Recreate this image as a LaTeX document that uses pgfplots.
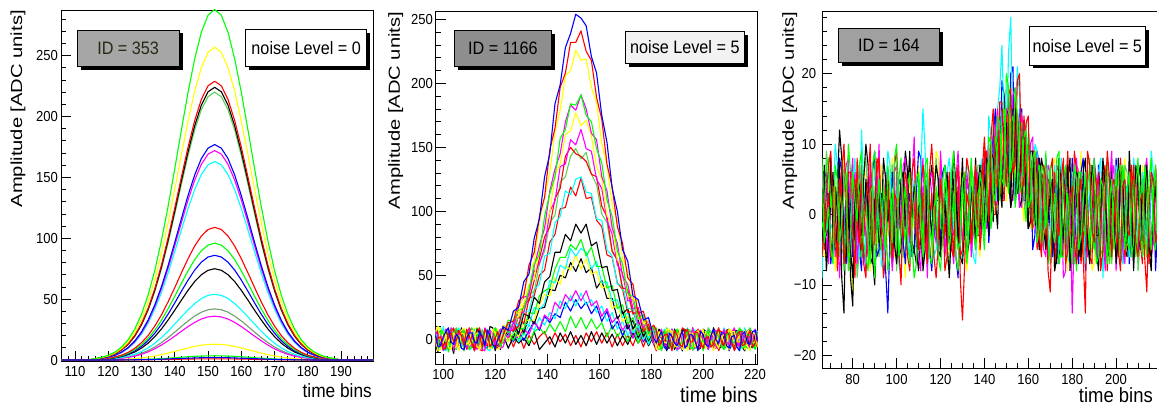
\documentclass[border=0pt]{standalone}
\usepackage{fontspec}
\setmainfont{Liberation Sans}[FakeStretch=0.9]
\usepackage{graphicx}
\usepackage{pgfplots}
\usepackage{pgfplotstable}
\pgfplotsset{compat=1.18}
\definecolor{rR}{RGB}{255,0,0}
\definecolor{rG}{RGB}{0,255,0}
\definecolor{rB}{RGB}{0,0,255}
\definecolor{rY}{RGB}{255,255,0}
\definecolor{rM}{RGB}{255,0,255}
\definecolor{rC}{RGB}{0,255,255}
\definecolor{rK}{RGB}{0,0,0}
\definecolor{rGe}{RGB}{89,212,84}
\definecolor{rGG}{RGB}{110,158,110}
\definecolor{boxA}{RGB}{166,166,166}
\definecolor{boxB}{RGB}{142,142,142}
\definecolor{boxC}{RGB}{160,160,160}
\definecolor{boxW}{RGB}{242,242,242}
\definecolor{olv}{RGB}{40,40,20}
\pgfplotsset{rootax/.style={scale only axis, anchor=south west,
  axis line style={black,line width=0.8pt},
  tick style={black,line width=0.8pt},
  major tick length=10pt, minor tick length=5pt,
  tick align=inside, tick pos=left,
  /pgf/number format/assume math mode=true,
  tick label style={font=\fontsize{14.5}{16}\selectfont, inner sep=2pt},
  every axis plot/.append style={line width=1.1pt, line join=round, mark=none}}}
\newcommand{\myPaveBox}[7]{%
  \fill[black,xshift=3.5pt,yshift=-3.5pt] (#1pt,#2pt) rectangle (#3pt,#4pt);
  \filldraw[fill=#5,draw=black,line width=0.8pt] (#1pt,#2pt) rectangle (#3pt,#4pt);
  \path (#1pt,#2pt) -- (#3pt,#4pt) node[midway,text=#7,inner sep=0pt,font=\fontsize{18}{20}\selectfont] {#6};}

% ---------- panel 1: noise level 0 ----------
\pgfplotstableread{
x a1 a2 a3 a4 a5 a6 a7 a8 a9 a10 a11 a12 a13 a14 a15 a16 a17 a18 a19
106 0 0 0 0 0 0 0 0 0 0 0 0 0 0 0 0 0 0 0
114 0 0 0 0 0 0 0 0 0 0 0 0 0 0 0 0 0 0 0
116 1.2 1.1 1.0 0.9 1.0 0.8 0.7 0.7 0.5 0.4 0.4 0.3 0.2 0.2 0.2 0 0 0 0
118 2.2 2.0 1.8 1.7 1.7 1.4 1.3 1.3 0.8 0.7 0.7 0.6 0.4 0.3 0.3 0.1 0 0 0
120 3.9 3.4 3.1 2.9 3.0 2.4 2.3 2.2 1.5 1.3 1.2 1.0 0.7 0.6 0.5 0.2 0 0 0
122 6.5 5.8 5.2 5.0 5.1 4.0 3.9 3.7 2.5 2.2 1.9 1.7 1.2 0.9 0.8 0.3 0.1 0 0
124 10.6 9.5 8.5 8.1 8.3 6.5 6.3 6.0 4.0 3.5 3.2 2.8 2.0 1.5 1.3 0.5 0.1 0 0.1
126 16.7 14.9 13.3 12.8 13.0 10.3 10.0 9.5 6.3 5.6 5.0 4.4 3.1 2.4 2.1 0.8 0.2 0.1 0.1
128 25.5 22.8 20.3 19.5 19.8 15.7 15.2 14.4 9.7 8.5 7.6 6.6 4.8 3.7 3.2 1.2 0.3 0.1 0.2
130 37.6 33.5 29.9 28.7 29.2 23.1 22.4 21.3 14.2 12.5 11.2 9.8 7.0 5.5 4.7 1.7 0.5 0.1 0.3
132 53.5 47.7 42.5 40.9 41.6 32.9 31.9 30.3 20.2 17.8 16.0 13.9 10.0 7.8 6.7 2.4 0.6 0.2 0.4
134 73.6 65.7 58.6 56.3 57.3 45.3 44.0 41.7 27.9 24.5 22.0 19.2 13.8 10.7 9.2 3.3 0.9 0.3 0.5
136 98.1 87.5 78.0 74.9 76.3 60.3 58.6 55.5 37.1 32.7 29.3 25.5 18.4 14.3 12.3 4.4 1.2 0.3 0.7
138 126.2 112.6 100.4 96.4 98.2 77.6 75.4 71.4 47.8 42.1 37.7 32.9 23.7 18.4 15.8 5.7 1.5 0.4 0.9
140 157.1 140.2 124.9 120.0 122.2 96.6 93.8 88.9 59.5 52.4 46.9 40.9 29.5 22.9 19.6 7.1 1.9 0.5 1.1
142 189.1 168.7 150.3 144.4 147.1 116.2 112.9 107.0 71.6 63.0 56.5 49.2 35.5 27.6 23.6 8.5 2.3 0.7 1.3
144 220.0 196.3 174.9 168.0 171.1 135.2 131.4 124.5 83.3 73.3 65.7 57.3 41.2 32.1 27.5 9.9 2.7 0.8 1.5
146 247.5 220.9 196.8 189.1 192.5 152.1 147.8 140.1 93.7 82.5 73.9 64.5 46.4 36.1 30.9 11.2 3.0 0.9 1.7
148 269.3 240.3 214.1 205.7 209.4 165.5 160.8 152.4 101.9 89.8 80.4 70.1 50.5 39.3 33.7 12.2 3.3 0.9 1.9
150 283.2 252.7 225.2 216.3 220.3 174.0 169.1 160.3 107.2 94.4 84.6 73.7 53.1 41.3 35.4 12.8 3.4 1 2
152 288 257 229 220 224 177 172 163 109 96 86 75 54 42 36 13 3.5 1 2
154 283.2 252.7 225.2 216.3 220.3 174.0 169.1 160.3 107.2 94.4 84.6 73.7 53.1 41.3 35.4 12.8 3.4 1 2
156 269.3 240.3 214.1 205.7 209.4 165.5 160.8 152.4 101.9 89.8 80.4 70.1 50.5 39.3 33.7 12.2 3.3 0.9 1.9
158 247.5 220.9 196.8 189.1 192.5 152.1 147.8 140.1 93.7 82.5 73.9 64.5 46.4 36.1 30.9 11.2 3.0 0.9 1.7
160 220.0 196.3 174.9 168.0 171.1 135.2 131.4 124.5 83.3 73.3 65.7 57.3 41.2 32.1 27.5 9.9 2.7 0.8 1.5
162 189.1 168.7 150.3 144.4 147.1 116.2 112.9 107.0 71.6 63.0 56.5 49.2 35.5 27.6 23.6 8.5 2.3 0.7 1.3
164 157.1 140.2 124.9 120.0 122.2 96.6 93.8 88.9 59.5 52.4 46.9 40.9 29.5 22.9 19.6 7.1 1.9 0.5 1.1
166 126.2 112.6 100.4 96.4 98.2 77.6 75.4 71.4 47.8 42.1 37.7 32.9 23.7 18.4 15.8 5.7 1.5 0.4 0.9
168 98.1 87.5 78.0 74.9 76.3 60.3 58.6 55.5 37.1 32.7 29.3 25.5 18.4 14.3 12.3 4.4 1.2 0.3 0.7
170 73.6 65.7 58.6 56.3 57.3 45.3 44.0 41.7 27.9 24.5 22.0 19.2 13.8 10.7 9.2 3.3 0.9 0.3 0.5
172 53.5 47.7 42.5 40.9 41.6 32.9 31.9 30.3 20.2 17.8 16.0 13.9 10.0 7.8 6.7 2.4 0.6 0.2 0.4
174 37.6 33.5 29.9 28.7 29.2 23.1 22.4 21.3 14.2 12.5 11.2 9.8 7.0 5.5 4.7 1.7 0.5 0.1 0.3
176 25.5 22.8 20.3 19.5 19.8 15.7 15.2 14.4 9.7 8.5 7.6 6.6 4.8 3.7 3.2 1.2 0.3 0.1 0.2
178 16.7 14.9 13.3 12.8 13.0 10.3 10.0 9.5 6.3 5.6 5.0 4.4 3.1 2.4 2.1 0.8 0.2 0.1 0.1
180 10.6 9.5 8.5 8.1 8.3 6.5 6.3 6.0 4.0 3.5 3.2 2.8 2.0 1.5 1.3 0.5 0.1 0 0.1
182 6.5 5.8 5.2 5.0 5.1 4.0 3.9 3.7 2.5 2.2 1.9 1.7 1.2 0.9 0.8 0.3 0.1 0 0
184 3.9 3.4 3.1 2.9 3.0 2.4 2.3 2.2 1.5 1.3 1.2 1.0 0.7 0.6 0.5 0.2 0 0 0
186 2.2 2.0 1.8 1.7 1.7 1.4 1.3 1.3 0.8 0.7 0.7 0.6 0.4 0.3 0.3 0.1 0 0 0
188 1.2 1.1 1.0 0.9 1.0 0.8 0.7 0.7 0.5 0.4 0.4 0.3 0.2 0.2 0.2 0 0 0 0
190 0 0 0 0 0 0 0 0 0 0 0 0 0 0 0 0 0 0 0
200 0 0 0 0 0 0 0 0 0 0 0 0 0 0 0 0 0 0 0
}\tA

% ---------- panel 2: ID 1166, noise level 5 ----------
\pgfplotstableread{
x c1 c2 c3 c4 c5 c6 c7 c8 c9 c10 c11 c12 c13 c14 c15 c16 c17 c18 c19 c20 c21 c22
97 3 -4 6 -2 8 1 -6 4 -1 7 -3 -9 2 5 -5 0 6 -2 3 -7 9 -4
98 -6 1 9 -3 2 -9 4 6 -8 -1 3 7 -4 -2 10 -5 1 -7 5 8 -3 -10
99 -5 2 -1 7 -3 -8 3 0 6 -2 5 4 -7 1 8 -3 -1 9 -4 2 -6 3
100 2 -8 -3 5 -7 6 -2 -5 3 10 -6 -4 6 -8 -1 4 -9 3 -2 -4 7 5
101 6 -7 3 2 -5 4 8 -3 -2 1 -6 0 5 -9 2 7 -4 1 -2 6 3 -8
102 9 4 -6 -9 3 -2 7 1 -4 -5 8 2 -10 5 4 -7 2 6 -8 1 -2 -3
103 -2 5 -8 -4 6 2 -1 7 3 -5 0 -3 8 2 -6 4 9 -5 1 -1 -3 5
104 -4 -2 5 3 -9 -6 -3 8 6 2 -5 -11 1 -3 -7 5 7 -4 3 -6 9 0
105 4 -1 2 9 0 -6 5 -4 -7 3 8 2 -2 6 1 -5 -3 4 7 -8 0 -2
106 1 7 -9 -1 5 3 -8 -6 2 -7 4 6 -2 8 -4 -2 -5 9 -6 3 -7 4
107 -7 3 5 -3 2 7 -2 1 4 -6 -1 6 3 -4 -3 9 2 -6 0 5 -5 1
108 -8 -5 4 7 -2 9 2 3 -9 5 -1 -3 8 -6 6 -8 4 -1 2 -9 1 -6
109 1 8 -4 0 -6 3 6 -7 2 4 -2 -5 -1 7 5 -2 -8 3 -4 1 7 4
110 5 2 -2 -8 8 -5 -6 -3 7 -3 9 3 -5 2 -2 7 -6 -8 -4 6 -4 8
111 5 -3 7 -6 4 -2 -4 3 -5 0 6 1 9 -1 -3 2 5 -7 6 -4 -2 -6
112 -2 -9 6 1 -4 2 5 -8 -3 8 -4 -7 4 -5 9 -1 3 5 -9 -2 6 -7
113 -3 0 -6 4 -8 5 2 6 1 -3 -7 8 -4 3 7 -5 0 2 -1 9 4 -1
114 6 3 -7 -4 1 -8 -1 9 4 -2 -6 5 -8 6 -3 2 -4 -3 7 4 -8 2
115 2 -6 1 -1 3 -4 -8 -2 7 5 2 -3 6 -5 0 4 -6 8 3 -2 -9 3
116 -5 8 2 6 -6 4 -9 -4 -1 3 7 -2 2 -7 5 -6 9 1 -3 -8 3 -5
117 7 4 -2 6 -1 0 3 -5 -3 -8 4 -1 -3 8 2 -7 6 -4 -5 3 1 7
118 3 -6 -4 -2 7 -7 6 2 -6 -9 -3 10 -6 4 -8 5 -2 -6 4 2 -5 6
119 -4 -2 8 -7 5 -3 -1 2 5 6 -4 9 1 -2 -6 3 -3 5 2 -5 -1 -4
120 -7 1 5 9 -3 6 -4 -7 8 4 1 -5 9 -1 3 -9 5 2 -7 -3 8 -2
121 0 6 -3 3 -4 8 4 -6 -1 2 -5 -2 7 4 -8 1 3 -1 -6 0 5 2
122 4 -3 -1 -6 2 -3 8 3 -5 -4 6 3 -3 7 -6 1 -7 8 1 5 -1 -8
123 10 3 11 3 11 0 6 8 -2 6 0 9 1 -2 7 2 -6 4 -1 6 -3 4
125 7 13 7 15 8 12 1 7 12 2 13 2 6 11 -2 4 6 -2 7 -1 5 -7
127 22 14 22 14 8 15 13 7 9 14 6 14 -1 5 7 1 1 7 -2 4 -6 2
129 25 30 20 23 26 18 21 10 18 10 18 4 9 13 2 13 2 -2 6 0 4 -3
131 45 34 37 24 33 28 21 28 21 22 12 20 8 12 14 5 8 4 -1 6 -7 1
133 51 58 52 39 34 43 37 30 36 22 32 18 21 11 15 18 4 11 7 -3 3 -5
135 79 68 61 59 57 47 53 46 37 39 34 33 20 25 15 12 14 7 14 6 -4 6
137 94 96 91 66 73 73 59 63 59 43 50 28 34 23 27 24 8 17 7 9 2 -8
139 127 111 111 96 87 87 72 80 69 65 54 45 38 28 35 25 19 11 18 4 6 -3
141 145 148 130 114 116 99 100 88 91 67 76 49 40 46 34 39 15 21 13 12 -4 2
143 184 165 162 127 133 128 108 110 97 91 82 68 55 44 48 38 29 16 20 6 5 -6
145 199 197 179 157 145 137 135 118 123 96 102 68 64 58 43 50 24 30 17 14 -2 5
147 228 208 206 164 170 160 137 143 127 116 103 82 64 55 58 48 35 24 29 6 4 -3
149 239 232 210 184 183 163 156 150 143 113 119 77 74 71 54 60 30 34 22 18 -5 6
151 254 232 226 183 179 177 152 145 149 125 112 90 70 65 66 53 38 26 31 9 3 -4
153 251 241 218 191 191 167 164 143 141 127 126 83 78 71 55 63 30 36 24 17 -6 3
155 245 225 219 175 180 171 149 139 146 115 110 90 65 68 63 52 38 27 29 8 5 -5
157 221 218 197 170 161 159 147 129 129 114 111 73 72 55 51 56 26 31 20 16 -2 6
159 208 189 185 149 156 135 125 127 121 94 93 76 57 61 53 40 30 21 26 8 6 -4
161 175 172 153 138 127 125 118 104 98 93 88 56 57 44 40 46 18 26 14 13 -3 5
163 154 137 136 109 116 97 93 96 91 70 66 57 40 45 42 32 24 14 22 2 5 -3
165 118 119 105 96 87 89 82 69 68 65 64 38 42 30 24 32 13 21 8 11 -6 4
167 100 88 92 69 75 62 58 62 62 43 44 39 24 31 27 16 18 8 14 2 4 -5
169 70 75 63 59 49 57 52 40 38 42 39 20 27 17 14 22 7 14 3 8 -5 3
171 61 48 54 36 43 34 30 39 36 24 21 24 12 21 18 8 13 3 11 -2 3 -4
173 34 43 31 33 24 32 31 20 19 24 22 8 17 5 6 15 1 10 1 8 -5 5
175 31 20 30 16 25 16 12 22 21 9 10 15 3 11 12 1 9 0 9 -3 6 -3
177 15 22 12 19 9 16 16 6 7 15 13 2 10 0 0 9 -1 8 -2 6 -6 4
179 17 7 15 4 15 3 4 12 11 1 2 9 0 9 8 -1 8 -4 6 -2 5 -5
181 1 11 3 10 1 11 9 -2 -1 8 9 -1 8 -2 -1 7 -4 5 -3 6 -4 3
182 -3 7 -8 4 -6 3 -1 5 6 -7 2 -4 9 -5 -2 6 -3 1 -7 4 -9 2
183 2 -5 6 -1 4 -7 3 0 -3 5 -2 8 -6 1 3 -4 7 -2 5 -8 1 -3
184 6 -2 3 -9 5 -6 8 -3 -1 4 -8 6 -2 7 -6 -1 5 -7 3 -5 2 -8
185 -6 3 -2 7 -4 1 -5 6 2 -3 5 -1 4 -7 -2 6 -3 8 -1 3 -5 2
186 -8 4 -3 2 -2 8 -5 -7 5 -2 6 -9 -4 3 4 -8 -6 6 -1 9 -3 5
187 5 -1 4 -6 2 6 -2 -4 7 0 -5 3 -3 5 8 -6 1 -4 -7 4 6 -1
188 2 -9 7 -5 8 -1 3 4 -8 6 -3 5 7 -6 -7 3 2 -2 8 -4 6 -6
189 -3 7 -5 2 -1 -4 6 3 -6 4 1 -8 5 -2 -5 2 -4 6 3 -6 -2 8
190 -5 3 -6 8 -7 5 -8 -2 3 -9 4 -2 -5 8 2 -4 -9 4 -3 6 -7 3
191 1 -4 8 -3 6 3 -7 -1 4 -5 7 2 -4 6 0 -3 5 -6 2 7 -5 -4
192 7 -6 2 -3 4 -8 5 9 -4 3 -7 8 -3 -2 -8 6 4 -5 5 -7 2 -9
193 -7 5 -1 4 -5 -2 2 7 -3 1 -4 6 -1 -6 4 8 -2 3 -5 -1 3 5
194 -4 8 -9 6 -5 2 -3 -6 7 -5 5 -6 8 -7 5 -2 -3 9 -6 3 -4 4
195 4 -2 3 -7 1 5 -6 -3 6 -6 2 -3 7 3 -4 -1 6 -5 4 2 -8 -2
196 3 -2 5 -7 9 -6 7 1 -9 8 -2 3 -6 5 -3 7 -8 -3 2 -8 9 -5
197 -2 6 -6 5 -3 -5 4 2 -1 7 -3 4 -5 -2 6 3 -6 1 -3 -7 2 6
198 -9 5 -4 3 -3 7 -5 -8 4 -4 8 -8 3 -6 6 -5 6 -1 -8 5 -6 7
199 6 -3 2 -2 7 2 -3 -6 3 -4 5 -7 2 4 -3 -5 3 -2 6 4 -4 -1
200 4 -7 8 -2 5 -4 2 6 -6 3 -5 6 -9 4 -4 8 -2 6 4 -6 3 -3
201 -4 1 -7 3 -5 6 5 0 -5 2 -6 5 -3 -5 1 6 -4 7 -2 -3 5 3
202 -6 2 -5 7 -8 3 -7 -4 8 -7 2 -3 5 -8 7 -3 8 -6 -2 9 -8 5
203 3 -6 5 -4 2 -1 -2 4 6 -3 3 -2 6 2 -6 -3 4 -3 -6 5 -1 -5
204 8 -4 3 -5 4 -9 6 3 -3 5 -6 9 -4 3 -5 5 -7 2 7 -3 4 -7
205 -1 4 -3 6 -6 -4 7 -5 -2 5 -1 3 -4 7 3 2 -7 5 1 -2 6 4
206 -3 9 -7 2 -6 5 -4 -8 6 -2 7 -4 8 -5 2 -7 5 -8 -5 6 -9 3
207 5 -2 1 -5 4 3 -4 2 -6 -2 6 -5 2 -3 5 -6 3 -1 -4 6 -3 -2
208 5 -5 4 -8 7 -2 8 4 -7 8 -3 6 -6 9 -6 3 -4 6 3 -8 5 -6
209 -5 7 -4 3 -2 -6 2 -3 5 4 -4 1 -6 4 -2 5 -2 4 6 -5 2 7
210 -7 3 -8 5 -4 8 -6 -3 4 -5 5 -8 3 -4 8 -6 7 -3 -9 4 -2 8
211 2 -3 6 -1 5 4 -5 6 -2 -6 3 -3 5 -6 7 -1 5 -6 -3 3 -6 -3
212 3 -8 6 -3 9 -4 4 7 -8 2 -9 4 -7 6 -3 8 -6 5 6 -6 7 -4
213 -6 4 -2 5 -3 -1 3 -4 3 6 -5 7 -2 2 -4 4 -3 2 5 -4 4 1
214 -9 6 -2 8 -5 3 -7 -5 5 -6 6 -3 9 -8 4 -4 3 -9 -3 8 -6 5
215 4 -5 3 -7 6 -5 -2 5 -4 -1 6 -4 3 -5 1 -3 6 -4 -2 7 -1 -6
216 6 -4 7 -6 3 -7 5 2 -6 9 -4 7 -5 3 -8 6 -7 4 8 -5 3 -9
217 -3 2 -5 4 -4 6 5 -3 7 -5 -2 3 -7 5 -3 6 -5 3 4 -3 5 2
218 -4 7 -9 3 -7 5 -3 -6 8 -4 3 -6 6 -9 5 -7 8 -2 -5 9 -8 4
219 6 -6 4 -2 3 -3 -4 1 -3 3 5 -6 4 -2 6 -5 2 -7 -4 5 -3 -5
220 7 -3 5 -8 4 -2 8 5 -3 6 -7 4 -4 7 -6 2 -5 8 3 -4 6 -7
221 -2 3 -6 6 -5 4 2 -5 4 -4 -3 5 -2 6 -5 3 -4 5 -1 -6 7 3
}\tB

% ---------- panel 3: ID 164, noise level 5 ----------
\pgfplotstableread{
x p1 p2 p3 p4 p5 p6 p7 p8 p9 p10 p11 p12
66 4 -6 8 -3 1 7 -9 2 -4 6 -1 3
67 1 -2 -4 5 -6 3 2 -1 7 -5 -3 6
68 -8 3 -2 6 -5 -1 4 9 -3 0 7 -6
69 -3 7 1 -2 4 -7 -5 6 -2 3 8 -1
70 2 9 -5 -7 6 3 -2 -4 8 -6 1 5
71 6 1 -7 -4 2 5 -1 -6 -3 -2 4 2
72 -5 -3 7 1 -8 -6 10 3 -1 4 -4 -2
73 -2 -6 5 3 -3 -1 7 2 4 -8 -6 -4
74 7 5 -4 8 2 -9 -3 -6 12 -2 3 6
75 -9 2 -1 6 5 -3 -5 -3 8 6 1 3
76 -14 -7 3 -2 9 4 -6 7 -5 10 -8 1
77 2 -4 6 -7 -2 7 3 5 -6 2 -2 -7
78 3 6 -8 5 -4 8 2 -3 1 -7 10 -5
79 -5 6 -3 1 -8 -4 -2 -7 -9 -3 6 4
80 -9 -2 6 -6 -11 1 5 4 -13 3 -3 8
81 -1 -9 2 4 3 6 8 1 2 5 -5 -2
82 6 8 -1 3 7 -7 -5 -9 4 -1 5 -4
83 4 1 7 -5 -1 -2 -6 -5 -3 -4 3 7
84 -3 -5 9 -8 -2 5 12 1 -6 7 -6 3
85 -3 -3 -4 1 6 1 4 6 5 -7 -1 -5
86 5 2 -6 4 6 -3 -7 8 10 -9 2 -8
87 1 5 -8 -2 -4 -6 -3 2 7 1 -4 3
88 -6 10 3 -1 -8 7 1 -5 -2 4 -7 6
89 -7 -4 4 6 1 4 6 -3 -6 -5 7 -6
90 2 -4 -9 9 4 -1 -3 3 -10 -4 9 -2
91 3 8 -2 -6 -3 2 -1 5 -2 6 2 1
92 -4 7 5 -5 -6 10 6 -6 3 8 -2 4
93 -2 -1 1 3 7 -5 -7 -1 -5 -1 -5 -3
94 8 -9 -2 2 3 -5 -8 5 -4 -3 4 -7
95 5 -6 -5 -8 -1 6 3 1 3 4 1 5
96 -1 4 7 -14 -3 3 9 -2 6 5 -8 2
97 2 -2 3 -3 4 -2 7 -4 -4 -2 -6 -4
98 3 -6 -4 6 8 -8 -1 7 -7 -6 3 -5
99 -4 3 8 2 -6 -4 -3 3 -2 7 2 6
100 -7 2 10 -3 -5 6 4 -8 1 9 -5 7
101 -1 -5 -6 5 -1 3 -7 -2 -6 3 5 -1
102 5 -10 -3 4 2 -2 -9 4 -5 -2 8 -3
103 6 2 1 -4 -5 7 5 -6 4 -3 -1 -4
104 -2 6 4 -7 -9 8 3 -5 9 4 -4 1
105 3 4 -4 1 4 -1 -2 2 6 -6 4 -5
106 9 -3 -7 3 5 -4 -6 6 -3 -8 6 -6
107 -4 6 -2 -6 -1 5 1 3 -1 1 -4 2
108 -5 8 2 -5 -2 11 5 -1 4 2 -9 4
109 -7 1 5 3 6 -3 -1 -4 -5 -3 -7 1
110 1 -5 6 9 7 -6 -3 3 -8 -4 5 -2
111 2 -3 -1 8 2 -8 6 6 -3 3 1 3
112 -8 3 -6 -2 -4 4 15 -7 2 7 -3 8
113 -5 -4 7 -1 -3 2 9 -2 -1 5 5 -1
114 4 -7 8 5 3 -9 -8 5 -5 -5 6 -5
115 1 6 -2 -5 -4 5 -3 -6 4 -1 -6 6
116 -3 10 -4 -8 -6 6 2 -4 7 3 -7 3
117 3 4 1 -3 4 3 -6 1 3 -6 -2 -2
118 7 -2 3 2 9 -3 -5 8 -2 -9 4 -4
119 5 -5 -6 2 8 -5 1 4 -5 -4 2 -6
120 -6 5 -8 -5 -3 8 6 -3 -6 5 -2 9
121 -3 1 -3 6 -1 3 2 -2 -1 2 5 3
122 2 -8 5 7 4 -5 -4 4 3 -3 7 -6
123 -4 -6 3 4 -6 -2 6 -6 6 1 3 -3
124 -9 4 -3 -4 -7 3 8 -8 -4 6 -5 2
125 -2 -1 6 -2 2 -4 3 -1 2 -5 -2 -1
126 5 -6 9 3 6 -7 -2 6 9 -6 3 -3
127 3 4 -2 -6 1 5 -3 3 4 -1 -6 6
128 -4 7 -5 -9 -5 9 4 -5 -2 4 -8 5
129 1 -9 -4 1 6 2 -6 4 -6 -6 -1 1
130 8 -15 4 6 2 -4 -6 3 -7 -5 5 -4
131 -2 -7 1 5 -3 -1 2 -1 -2 3 6 -2
132 -6 3 -7 -3 -8 5 7 -6 5 8 -3 6
133 -4 1 -2 2 -4 3 6 2 3 6 2 3
134 3 -4 6 4 5 -6 -3 7 -3 -4 8 -5
135 1 3 5 -1 2 -2 -6 5 1 -1 -2 -2
136 -4 7 -1 -5 4 3 -7 -2 8 2 -5 5
137 4 -2 -3 3 -4 6 1 7 -3 5 3 -2
138 7 -1 6 5 -6 -4 6 7 -3 -5 4 -1
139 -2 6 4 -1 7 0 8 -2 7 -1 -1 6
140 -1 11 -3 7 7 0 -2 -2 5 9 -5 8
141 8 5 0 9 -2 7 2 8 1 9 5 -2
142 7 -1 11 -4 1 10 14 7 -3 0 8 -1
143 2 11 10 1 6 1 11 -1 9 6 -2 9
144 -1 15 3 11 10 1 6 13 8 0 1 11
145 9 4 2 15 1 12 6 10 2 0 11 1
146 11 4 14 2 1 15 15 4 -2 12 10 2
147 4 16 13 7 11 4 18 6 10 10 2 12
148 1 16 5 19 11 3 24 13 3 2 14 4
149 13 7 4 17 2 14 12 15 3 2 15 2
150 13 4 20 9 2 15 10 5 15 14 6 13
151 5 17 18 7 14 4 23 7 14 14 3 13
152 1 18 6 20 13 7 28 17 1 5 13 2
153 15 6 9 21 5 17 10 15 3 7 14 2
154 15 7 18 2 4 18 12 4 12 16 1 11
155 3 19 14 7 14 6 21 3 11 14 4 11
156 5 20 3 15 13 1 17 11 1 5 13 2
157 11 6 4 15 2 14 6 13 2 3 13 1
158 11 4 11 2 -1 12 4 2 11 14 2 8
159 2 13 12 2 11 1 13 2 10 10 -1 10
160 -2 14 1 10 7 3 13 11 -2 1 11 -2
161 9 0 2 9 -2 10 4 10 -1 1 8 -1
162 9 -2 8 -5 -1 11 2 -1 8 9 -2 7
163 -1 7 9 -3 7 -1 10 0 7 9 -1 7
164 -2 8 -4 9 9 -3 9 6 -1 -5 6 -3
165 8 -3 -2 7 -2 7 -2 7 -5 -2 7 -3
166 6 -6 7 -1 -4 5 -2 -5 8 5 -5 7
167 -2 7 6 -2 7 -5 6 -1 6 6 -3 7
168 -5 5 -2 8 5 -6 6 4 -4 -3 9 -2
169 -1 -8 3 2 -3 7 -6 -2 5 1 -7 2
170 3 -11 7 -2 -6 6 -3 -7 4 6 -4 5
171 5 2 -2 -6 7 1 4 -4 -3 8 -1 -5
172 -8 6 -4 5 8 -3 7 4 -6 -8 3 -4
173 -6 -1 8 4 1 -5 -3 6 -7 -2 2 7
174 5 -3 9 -7 -2 5 -5 -3 8 4 -7 6
175 1 5 -6 -1 -4 2 8 3 4 -6 -5 -1
176 -4 8 -6 3 6 -9 4 7 -3 -5 5 -3
177 3 -7 0 6 2 -8 -1 -5 -2 4 7 -4
178 7 -5 3 -4 -8 4 -6 -2 5 9 -6 3
179 -8 1 -3 -4 6 3 -7 2 8 -3 1 3
180 -3 4 -7 8 3 -14 6 5 -7 -2 4 -5
181 2 -4 7 1 -5 -2 5 -7 -1 9 -4 -6
182 6 -7 5 -5 -4 7 -3 -6 3 6 -8 8
183 5 3 -5 -7 1 6 -2 4 -6 -1 6 1
184 -6 5 -3 6 9 -5 4 3 -4 -7 6 -4
185 -2 -6 2 8 -6 -1 3 -3 6 -4 -2 -3
186 4 -14 6 -8 -3 6 -7 -5 8 3 -3 5
187 -4 9 -1 -2 3 -6 -4 7 -3 2 4 -1
188 -7 7 -5 3 5 -4 5 8 -5 -6 7 -6
189 7 -2 4 4 -8 2 1 -1 1 -7 -3 6
190 5 -4 8 -2 -7 8 -3 -4 4 7 -5 3
191 -3 3 -7 -5 5 5 -6 -6 -5 4 1 -2
192 -3 6 -6 7 4 -6 6 5 -8 -4 3 -7
193 1 -8 5 2 -1 -3 8 2 3 -2 -5 2
194 8 -5 4 -6 -5 5 -9 -3 6 5 -6 6
195 4 2 -2 -3 2 -8 -2 -4 -7 7 4 -5
196 -5 9 -7 5 7 -3 4 6 -4 -8 8 -4
197 -6 5 2 6 -7 4 6 5 2 -1 -7 1
198 3 -6 5 -4 -3 9 -5 -7 7 4 -4 5
199 2 -1 -5 -4 3 -1 -4 -2 -3 5 2 7
200 -7 4 -3 8 6 -6 7 3 -6 -3 6 -8
201 -3 -5 6 2 -2 3 1 3 8 -6 -1 -2
202 6 -8 7 -5 -4 4 -3 -6 4 8 -7 4
203 6 4 -1 -7 5 -5 -7 -1 -2 2 7 -3
204 -4 5 -5 3 8 -7 5 7 -5 -6 4 -3
205 -4 -2 3 4 -1 2 3 6 -6 -3 -4 2
206 5 -3 6 -7 -6 6 -6 -4 9 3 -5 7
207 1 3 -6 -2 6 -6 -1 -6 3 7 1 -4
208 -8 7 -4 6 4 -4 8 5 -7 -5 7 -6
209 7 -4 4 1 -4 3 5 2 -1 -2 -6 3
210 4 -6 8 -3 -5 7 -4 -8 5 6 -3 4
211 -2 2 -2 -5 2 -1 -3 -4 7 -4 2 -2
212 -5 3 -6 5 7 -5 6 4 -4 -7 5 -5
213 3 -6 7 3 -6 6 2 6 -2 3 -3 5
214 7 -11 4 -6 -3 8 -5 -3 6 4 -6 6
215 -5 1 -1 -4 3 -2 -7 -1 -5 -7 5 -1
216 -6 6 -5 4 5 -6 9 6 -8 -4 8 -4
217 1 5 3 6 -1 -4 6 4 3 2 -2 -3
218 4 -4 7 -8 -7 4 -3 -5 5 7 -5 5
219 -3 -2 -4 -1 7 7 -2 -3 -2 -4 7 2
220 -5 8 -3 5 6 -7 5 4 -6 -5 3 -7
221 5 3 1 -6 -3 -2 3 -6 6 1 -1 -4
222 6 -5 5 -4 -4 5 -6 -7 4 6 -6 4
223 -1 -7 -3 2 2 1 -5 2 -3 -2 -4 6
224 -4 4 -6 6 7 -3 4 5 -5 -3 7 -5
225 2 1 6 -2 -2 -5 1 -3 1 4 2 -1
226 3 -7 4 -3 -5 6 -5 -4 7 4 -4 6
}\tC

\begin{document}
\begin{tikzpicture}
\useasboundingbox (0,0) rectangle (1157pt,405pt);
% ===== panel 1 =====
\begin{axis}[rootax, at={(61pt,44pt)}, width=312pt, height=351pt,
  xmin=105.8, xmax=199.6, ymin=-0.8, ymax=287.5,
  xtick={110,120,...,190}, minor xtick={106,108,...,198},
  ytick={0,50,...,250}, minor ytick={10,20,...,280},
  xticklabel style={yshift=-2.8pt}, yticklabel style={xshift=-1pt},
  xlabel={time bins},
  every axis x label/.style={at={(axis description cs:1,0)},anchor=north east,inner sep=0pt,yshift=-22.3pt,xshift=-1pt,font=\fontsize{19.2}{20}\selectfont},
  ylabel={\scalebox{1.4}[1]{Amplitude [ADC units]}},
  every axis y label/.style={at={(axis description cs:-0.1378,1)},rotate=90,anchor=east,inner sep=0pt,font=\fontsize{16}{18}\selectfont}]
\addplot[rGG] table[x=x,y=a14]{\tA};
\addplot[rM] table[x=x,y=a15]{\tA};
\addplot[rY] table[x=x,y=a16]{\tA};
\addplot[rC] table[x=x,y=a13]{\tA};
\addplot[rK] table[x=x,y=a12]{\tA};
\addplot[rB] table[x=x,y=a11]{\tA};
\addplot[rG] table[x=x,y=a10]{\tA};
\addplot[rR] table[x=x,y=a9]{\tA};
\addplot[rC] table[x=x,y=a8]{\tA};
\addplot[rM] table[x=x,y=a7]{\tA};
\addplot[rB] table[x=x,y=a6]{\tA};
\addplot[rGe] table[x=x,y=a4]{\tA};
\addplot[rK] table[x=x,y=a5]{\tA};
\addplot[rR] table[x=x,y=a3]{\tA};
\addplot[rY] table[x=x,y=a2]{\tA};
\addplot[rG] table[x=x,y=a1]{\tA};
\addplot[rG] table[x=x,y=a17]{\tA};
\addplot[rR] table[x=x,y=a18]{\tA};
\addplot[rB] table[x=x,y=a19]{\tA};
\end{axis}
% ===== panel 2 =====
\begin{axis}[rootax, at={(435.7pt,41pt)}, width=322pt, height=352.3pt,
  xmin=97.1, xmax=221, ymin=-19.3, ymax=256,
  xtick={100,120,...,220}, minor xtick={100,105,...,220},
  ytick={0,50,...,250}, minor ytick={-10,0,...,250},
  xticklabel style={yshift=-2.8pt}, yticklabel style={xshift=-0.5pt},
  xlabel={time bins},
  every axis x label/.style={at={(axis description cs:1,0)},anchor=north east,inner sep=0pt,yshift=-22.7pt,font=\fontsize{21.5}{22}\selectfont},
  ylabel={\scalebox{1.4}[1]{Amplitude [ADC units]}},
  every axis y label/.style={at={(axis description cs:-0.124,1)},rotate=90,anchor=east,inner sep=0pt,font=\fontsize{16}{18}\selectfont}]
\addplot[rR] table[x=x,y=c21]{\tB};
\addplot[rK] table[x=x,y=c22]{\tB};
\addplot[rG] table[x=x,y=c20]{\tB};
\addplot[rB] table[x=x,y=c19]{\tB};
\addplot[rC] table[x=x,y=c18]{\tB};
\addplot[rM] table[x=x,y=c17]{\tB};
\addplot[rK] table[x=x,y=c16]{\tB};
\addplot[rY] table[x=x,y=c15]{\tB};
\addplot[rC] table[x=x,y=c14]{\tB};
\addplot[rG] table[x=x,y=c13]{\tB};
\addplot[rK] table[x=x,y=c12]{\tB};
\addplot[rR] table[x=x,y=c11]{\tB};
\addplot[rC] table[x=x,y=c10]{\tB};
\addplot[rGe] table[x=x,y=c9]{\tB};
\addplot[rR] table[x=x,y=c8]{\tB};
\addplot[rM] table[x=x,y=c7]{\tB};
\addplot[rY] table[x=x,y=c6]{\tB};
\addplot[rM] table[x=x,y=c5]{\tB};
\addplot[rG] table[x=x,y=c4]{\tB};
\addplot[rY] table[x=x,y=c3]{\tB};
\addplot[rR] table[x=x,y=c2]{\tB};
\addplot[rB] table[x=x,y=c1]{\tB};
\end{axis}
% ===== panel 3 =====
\begin{axis}[rootax, at={(822pt,37pt)}, width=336pt, height=356.3pt,
  xmin=66, xmax=219.1, ymin=-21.8, ymax=28.8,
  xtick={80,100,...,200}, minor xtick={70,75,...,215},
  ytick={-20,-10,0,10,20}, yticklabels={−20,−10,0,10,20}, minor ytick={-20,-18,...,28},
  xticklabel style={yshift=-3.8pt}, yticklabel style={xshift=-3.7pt},
  xlabel={time bins},
  every axis x label/.style={at={(axis description cs:1,0)},anchor=north east,inner sep=0pt,yshift=-19.5pt,xshift=-5pt,font=\fontsize{20.5}{21}\selectfont},
  ylabel={\scalebox{1.4}[1]{Amplitude [ADC units]}},
  every axis y label/.style={at={(axis description cs:-0.0964,1)},rotate=90,anchor=east,inner sep=0pt,font=\fontsize{16}{18}\selectfont}]
\addplot[rY] table[x=x,y=p5]{\tC};
\addplot[rGe] table[x=x,y=p8]{\tC};
\addplot[rM] table[x=x,y=p12]{\tC};
\addplot[rB] table[x=x,y=p4]{\tC};
\addplot[rC] table[x=x,y=p7]{\tC};
\addplot[rK] table[x=x,y=p9]{\tC};
\addplot[rM] table[x=x,y=p6]{\tC};
\addplot[rR] table[x=x,y=p10]{\tC};
\addplot[rK] table[x=x,y=p1]{\tC};
\addplot[rG] table[x=x,y=p11]{\tC};
\addplot[rR] table[x=x,y=p2]{\tC};
\addplot[rG] table[x=x,y=p3]{\tC};
\end{axis}
% ===== text boxes =====
\myPaveBox{77.3}{338.3}{179}{375}{boxA}{ID = 353}{olv}
\myPaveBox{245.7}{338.3}{366.7}{375.7}{white}{noise Level = 0}{black}
\myPaveBox{454}{338.3}{551.7}{374.3}{boxB}{ID = 1166}{black}
\myPaveBox{625.7}{341.7}{744}{373.3}{boxW}{noise Level = 5}{black}
\myPaveBox{838}{342.3}{939.7}{376.7}{boxC}{ID = 164}{black}
\myPaveBox{1029.3}{340}{1145.3}{378.3}{white}{noise Level = 5}{black}
\end{tikzpicture}
\end{document}
